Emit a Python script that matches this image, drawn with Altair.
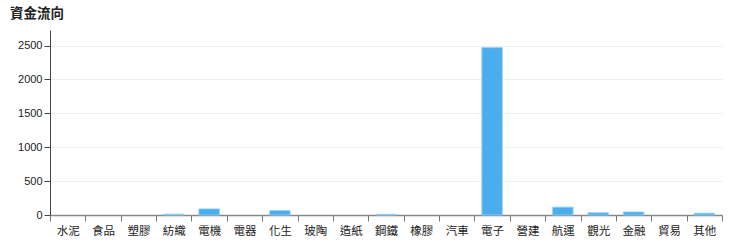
import altair as alt
import pandas as pd

categories = ["水泥", "食品", "塑膠", "紡織", "電機", "電器", "化生", "玻陶", "造紙", "鋼鐵",
              "橡膠", "汽車", "電子", "營建", "航運", "觀光", "金融", "貿易", "其他"]
values = [0, 0, 0, 12, 90, 0, 66, 0, 0, 10, 0, 0, 2470, 0, 116, 34, 45, 0, 27]
y_ticks = [0, 500, 1000, 1500, 2000, 2500]

df = pd.DataFrame({"cat": categories, "val": values})

W, H = 672, 185

x = alt.X("cat:N", sort=categories, title=None,
          scale=alt.Scale(domain=categories, paddingInner=0, paddingOuter=0),
          axis=alt.Axis(tickBand="extent", labelAngle=0, labelFont="Noto Sans CJK TC",
                        labelFontSize=11.5, labelColor="#222", labelPadding=4,
                        tickSize=6, tickColor="#777", domainColor="#888", domainWidth=1.5,
                        ticks=True, grid=False))
y = alt.Y("val:Q", title=None,
          scale=alt.Scale(domain=[0, 2730], nice=False),
          axis=alt.Axis(values=y_ticks, format="d", labelFont="Liberation Sans", labelFontSize=11,
                        labelColor="#222", tickSize=6, tickColor="#444", domainColor="#444",
                        gridColor="#eeeeee", labelPadding=2))

bars = alt.Chart(df).transform_filter(alt.datum.val > 0).mark_bar(
    width=alt.RelativeBandSize(0.58), color="#4AAEEE",
    stroke="#8FD3FF", strokeWidth=0.8).encode(x=x, y=y)

chart = bars.properties(
    width=W, height=H,
    title=alt.TitleParams("資金流向", anchor="start", frame="group", dx=-40, offset=10,
                          font="Noto Sans CJK TC", fontSize=13.5, fontWeight="bold", color="#222"),
    autosize=alt.AutoSizeParams(type="none"),
    padding={"left": 50, "top": 30, "right": 18, "bottom": 31},
).configure_view(stroke=None)

chart.save("out.html", embed_options={"renderer": "svg", "actions": False})
